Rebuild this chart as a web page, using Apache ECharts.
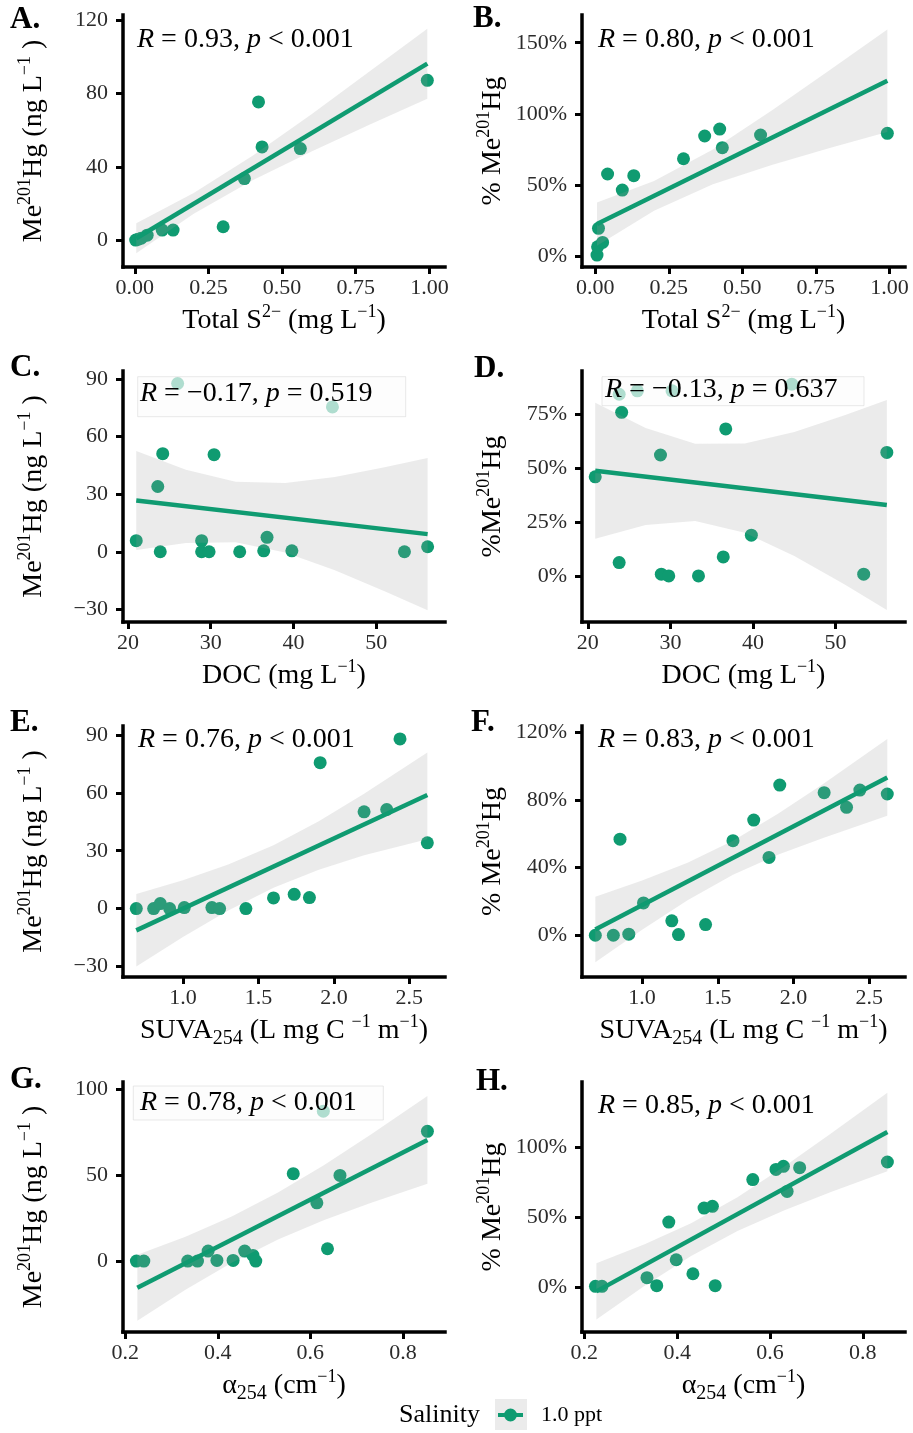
<!DOCTYPE html>
<html><head><meta charset="utf-8">
<script src="https://cdn.jsdelivr.net/npm/echarts@6/dist/echarts.min.js"></script>
<style>html,body{margin:0;padding:0;background:#fff}#c{width:913px;height:1433px}</style>
</head><body><div id="c"></div>
<script>
const GREEN = '#0f9b71';
const FONT = 'Liberation Serif';

// ---- Panel A: Total S2- vs MeHg
const xA = [0.003, 0.012, 0.022, 0.042, 0.093, 0.13, 0.30, 0.372, 0.42, 0.432, 0.562, 0.993];
const yA = [0, 0.5, 1.0, 2.7, 5.5, 5.5, 7.3, 33.6, 75.5, 50.9, 50.0, 87.3];
const fitXA = [0.005, 0.993];
const fitYA = [1.0, 96.4];
const bandXA = [0.005, 0.2, 0.4, 0.6, 0.8, 0.993];
const bandLoA = [-7.2, 14.4, 32.7, 48.4, 63.3, 77.3];
const bandHiA = [9.2, 25.8, 46.1, 68.8, 92.5, 115.5];
const xTicksA = [0, 0.25, 0.5, 0.75, 1];
const yTicksA = [0, 40, 80, 120];

// ---- Panel B: Total S2- vs %MeHg
const xB = [0.006, 0.008, 0.025, 0.011, 0.042, 0.092, 0.131, 0.30, 0.372, 0.423, 0.432, 0.562, 0.993];
const yB = [0.7, 6.5, 9.6, 19.5, 57.7, 46.4, 56.5, 68.4, 84.4, 89.3, 76.2, 85.1, 86.3];
const fitXB = [0.006, 0.993];
const fitYB = [22.5, 123.3];
const bandXB = [0.006, 0.2, 0.4, 0.6, 0.8, 0.993];
const bandLoB = [7.3, 31.9, 50.4, 64.0, 76.1, 87.3];
const bandHiB = [37.7, 52.7, 75.0, 102.4, 131.1, 159.3];
const xTicksB = [0, 0.25, 0.5, 0.75, 1];
const yTicksB = [0, 50, 100, 150];

// ---- Panel C: DOC vs MeHg
const xC = [21.0, 23.9, 23.6, 24.2, 26.0, 28.9, 28.9, 29.8, 30.4, 33.5, 36.4, 36.8, 39.8, 44.7, 53.4, 56.2];
const yC = [5.8, 0, 34.0, 51.1, 87.7, 5.8, 0, 0, 50.6, 0, 0.5, 7.5, 0.5, 75.5, 0, 2.6];
const fitXC = [21.0, 56.2];
const fitYC = [26.7, 9.2];
const bandXC = [21, 27, 33, 39, 45, 51, 56.2];
const bandLoC = [0.9, 4.6, 4.9, -0.4, -9.6, -20.6, -30.5];
const bandHiC = [52.5, 42.8, 36.5, 35.8, 39.0, 44.0, 48.9];
const xTicksC = [20, 30, 40, 50];
const yTicksC = [-30, 0, 30, 60, 90];

// ---- Panel D: DOC vs %MeHg
const xD = [20.9, 23.8, 26.0, 24.1, 23.8, 28.8, 28.9, 29.8, 30.2, 33.4, 36.4, 36.7, 39.8, 44.7, 53.4, 56.2];
const yD = [46.0, 84.3, 85.9, 75.9, 6.2, 56.1, 0.8, 0, 85.9, 0, 8.8, 68.2, 18.9, 89.0, 0.8, 57.3];
const fitXD = [20.9, 56.2];
const fitYD = [48.8, 32.9];
const bandXD = [20.9, 27, 33, 39, 45, 51, 56.2];
const bandLoD = [17.2, 23.6, 25.5, 20.0, 9.2, -3.8, -15.8];
const bandHiD = [80.4, 68.6, 61.3, 61.4, 66.8, 74.4, 81.6];
const xTicksD = [20, 30, 40, 50];
const yTicksD = [0, 25, 50, 75];

// ---- Panel E: SUVA254 vs MeHg
const xE = [0.691, 0.806, 0.850, 0.912, 1.009, 1.192, 1.243, 1.417, 1.600, 1.737, 1.838, 1.909, 2.200, 2.350, 2.438, 2.619];
const yE = [0, 0, 2.6, 0, 0.5, 0.5, 0, 0, 5.5, 7.4, 5.7, 75.7, 50.2, 51.4, 88.0, 34.1];
const fitXE = [0.691, 2.619];
const fitYE = [-11.3, 58.9];
const bandXE = [0.691, 1.0, 1.3, 1.6, 1.9, 2.2, 2.619];
const bandLoE = [-30.1, -14.7, -1.0, 10.8, 20.1, 27.7, 36.0];
const bandHiE = [7.5, 14.7, 22.8, 32.8, 45.3, 59.5, 81.0];
const xTicksE = [1.0, 1.5, 2.0, 2.5];
const yTicksE = [-30, 0, 30, 60, 90];

// ---- Panel F: SUVA254 vs %MeHg
const xF = [0.691, 0.810, 0.854, 0.912, 1.009, 1.196, 1.240, 1.419, 1.600, 1.737, 1.838, 1.909, 2.202, 2.350, 2.438, 2.619];
const yF = [0, 0, 56.8, 0.6, 19.1, 8.5, 0.4, 6.3, 55.9, 68.1, 46.0, 88.8, 84.3, 75.6, 85.8, 83.5];
const fitXF = [0.691, 2.619];
const fitYF = [3.4, 93.3];
const bandXF = [0.691, 1.0, 1.3, 1.6, 1.9, 2.2, 2.619];
const bandLoF = [-16.0, 3.2, 20.7, 35.8, 47.7, 57.7, 70.6];
const bandHiF = [22.8, 32.4, 42.9, 55.8, 71.9, 89.7, 116.0];
const xTicksF = [1.0, 1.5, 2.0, 2.5];
const yTicksF = [0, 40, 80, 120];

// ---- Panel G: a254 vs MeHg
const xG = [0.224, 0.240, 0.335, 0.356, 0.379, 0.398, 0.433, 0.458, 0.476, 0.482, 0.563, 0.614, 0.628, 0.637, 0.664, 0.853];
const yG = [0, 0, 0, 0, 5.8, 0.4, 0.4, 5.8, 3.3, 0, 51.0, 34.0, 87.5, 7.2, 50.0, 75.7];
const fitXG = [0.226, 0.853];
const fitYG = [-15.6, 70.7];
const bandXG = [0.226, 0.33, 0.43, 0.53, 0.63, 0.73, 0.853];
const bandLoG = [-34.9, -16.8, -1.0, 12.6, 23.9, 33.9, 45.1];
const bandHiG = [3.7, 14.2, 26.0, 40.0, 56.1, 73.7, 96.3];
const xTicksG = [0.2, 0.4, 0.6, 0.8];
const yTicksG = [0, 50, 100];

// ---- Panel H: a254 vs %MeHg
const xH = [0.224, 0.238, 0.335, 0.356, 0.382, 0.398, 0.434, 0.458, 0.476, 0.482, 0.563, 0.613, 0.629, 0.637, 0.664, 0.853];
const yH = [0.5, 0.5, 6.7, 1.0, 46.4, 19.5, 9.5, 56.4, 57.6, 1.0, 76.7, 84.0, 86.2, 68.3, 85.2, 89.3];
const fitXH = [0.226, 0.853];
const fitYH = [-3.1, 110.7];
const bandXH = [0.226, 0.33, 0.43, 0.53, 0.63, 0.73, 0.853];
const bandLoH = [-23.1, 1.0, 22.2, 40.0, 54.6, 67.6, 82.7];
const bandHiH = [16.9, 30.6, 45.6, 64.2, 85.8, 109.2, 138.7];
const xTicksH = [0.2, 0.4, 0.6, 0.8];
const yTicksH = [0, 50, 100];

const statLabels = [
  '{i|R}{t| = 0.93, }{i|p}{t| < 0.001}',
  '{i|R}{t| = 0.80, }{i|p}{t| < 0.001}',
  '{i|R}{t| = \u22120.17, }{i|p}{t| = 0.519}',
  '{i|R}{t| = \u22120.13, }{i|p}{t| = 0.637}',
  '{i|R}{t| = 0.76, }{i|p}{t| < 0.001}',
  '{i|R}{t| = 0.83, }{i|p}{t| < 0.001}',
  '{i|R}{t| = 0.78, }{i|p}{t| < 0.001}',
  '{i|R}{t| = 0.85, }{i|p}{t| < 0.001}'
];
const panelLetters = ['A.', 'B.', 'C.', 'D.', 'E.', 'F.', 'G.', 'H.'];

const NAME_S = '{n|Total S}{sup|2\u2212}{n| (mg L}{sup|\u22121}{n|)}';
const NAME_DOC = '{n|DOC (mg L}{sup|\u22121}{n|)}';
const NAME_SUVA = '{n|SUVA}{sub|254}{n| (L mg C }{sup|\u22121}{n| m}{sup|\u22121}{n|)}';
const NAME_A254 = '{n|\u03b1}{sub|254}{n| (cm}{sup|\u22121}{n|)}';
const NAME_MEHG = '{n|Me}{sup|201}{n|Hg (ng L}{sup|\u22121}{n| )}';
const NAME_PCT = '{n|% Me}{sup|201}{n|Hg}';
const NAME_PCT2 = '{n|%Me}{sup|201}{n|Hg}';

const panels = [
  {x: xA, y: yA, fx: fitXA, fy: fitYA, bx: bandXA, lo: bandLoA, hi: bandHiA, xt: xTicksA, yt: yTicksA, xr: [-0.04, 1.053], yr: [-14.7, 123], xd: 2, pct: false, xn: NAME_S, yn: NAME_MEHG},
  {x: xB, y: yB, fx: fitXB, fy: fitYB, bx: bandXB, lo: bandLoB, hi: bandHiB, xt: xTicksB, yt: yTicksB, xr: [-0.045, 1.053], yr: [-7.7, 169.5], xd: 2, pct: true, xn: NAME_S, yn: NAME_PCT},
  {x: xC, y: yC, fx: fitXC, fy: fitYC, bx: bandXC, lo: bandLoC, hi: bandHiC, xt: xTicksC, yt: yTicksC, xr: [19.4, 58.3], yr: [-36.6, 94.2], xd: 0, pct: false, xn: NAME_DOC, yn: NAME_MEHG},
  {x: xD, y: yD, fx: fitXD, fy: fitYD, bx: bandXD, lo: bandLoD, hi: bandHiD, xt: xTicksD, yt: yTicksD, xr: [19.3, 58.4], yr: [-21.4, 95.1], xd: 0, pct: true, xn: NAME_DOC, yn: NAME_PCT2},
  {x: xE, y: yE, fx: fitXE, fy: fitYE, bx: bandXE, lo: bandLoE, hi: bandHiE, xt: xTicksE, yt: yTicksE, xr: [0.603, 2.736], yr: [-35.5, 94.7], xd: 1, pct: false, xn: NAME_SUVA, yn: NAME_MEHG},
  {x: xF, y: yF, fx: fitXF, fy: fitYF, bx: bandXF, lo: bandLoF, hi: bandHiF, xt: xTicksF, yt: yTicksF, xr: [0.603, 2.736], yr: [-24.7, 123.7], xd: 1, pct: true, xn: NAME_SUVA, yn: NAME_PCT},
  {x: xG, y: yG, fx: fitXG, fy: fitYG, bx: bandXG, lo: bandLoG, hi: bandHiG, xt: xTicksG, yt: yTicksG, xr: [0.195, 0.891], yr: [-41.4, 104.5], xd: 1, pct: false, xn: NAME_A254, yn: NAME_MEHG},
  {x: xH, y: yH, fx: fitXH, fy: fitYH, bx: bandXH, lo: bandLoH, hi: bandHiH, xt: xTicksH, yt: yTicksH, xr: [0.195, 0.891], yr: [-32.1, 146.4], xd: 1, pct: true, xn: NAME_A254, yn: NAME_PCT}
];

// layout
const lefts = [123, 582];
const tops = [15, 371, 726, 1082];
const heights = [252, 251, 251, 250];
const gridW = [322, 323];

function fmt(v, d, pct) {
  let s = Math.abs(v).toFixed(d);
  if (v < 0) s = '\u2212' + s;
  return pct ? s + '%' : s;
}

const richName = {
  n: {fontFamily: FONT, fontSize: 28, lineHeight: 36, color: '#000'},
  sup: {fontFamily: FONT, fontSize: 18, lineHeight: 18, verticalAlign: 'top', color: '#000'},
  sub: {fontFamily: FONT, fontSize: 20, lineHeight: 26, verticalAlign: 'bottom', color: '#000'}
};
const richStat = {
  t: {fontFamily: FONT, fontSize: 28, color: '#000'},
  i: {fontFamily: FONT, fontSize: 28, fontStyle: 'italic', color: '#000'}
};

const grids = [], xAxes = [], yAxes = [], series = [];
panels.forEach(function (p, i) {
  const col = i % 2, row = Math.floor(i / 2);
  grids.push({left: lefts[col], top: tops[row], width: gridW[col], height: heights[row], containLabel: false});
  const axLine = {show: true, onZero: false, lineStyle: {color: '#000', width: 3.5, cap: 'square'}};
  xAxes.push({
    type: 'value', gridIndex: i, min: p.xr[0], max: p.xr[1],
    axisLine: axLine,
    axisTick: {show: true, length: 7, customValues: p.xt, lineStyle: {color: '#000', width: 3}},
    axisLabel: {customValues: p.xt, margin: 10, fontFamily: FONT, fontSize: 22, color: '#2b2b2b',
      formatter: function (v) { return fmt(v, p.xd, false); }},
    splitLine: {show: false},
    name: p.xn, nameLocation: 'middle', nameGap: 36,
    nameTextStyle: {fontFamily: FONT, fontSize: 28, color: '#000', rich: richName}
  });
  yAxes.push({
    type: 'value', gridIndex: i, min: p.yr[0], max: p.yr[1],
    axisLine: axLine,
    axisTick: {show: true, length: 7, customValues: p.yt, lineStyle: {color: '#000', width: 3}},
    axisLabel: {customValues: p.yt, margin: 15, fontFamily: FONT, fontSize: 22, color: '#2b2b2b',
      formatter: function (v) { return fmt(v, 0, p.pct); }},
    splitLine: {show: false},
    name: p.yn, nameLocation: 'middle', nameGap: 71,
    nameTextStyle: {fontFamily: FONT, fontSize: 28, color: '#000', rich: richName}
  });
  series.push({
    type: 'scatter', name: '1.0 ppt', xAxisIndex: i, yAxisIndex: i, z: 2,
    data: p.x.map(function (v, k) { return [v, p.y[k]]; }),
    symbol: 'circle', symbolSize: 13, itemStyle: {color: GREEN, opacity: 1}
  });
  series.push({
    type: 'custom', name: 'band' + i, xAxisIndex: i, yAxisIndex: i, z: 3, silent: true,
    data: p.bx.map(function (v, k) { return [v, p.lo[k], p.hi[k]]; }),
    encode: {x: 0, y: [1, 2]},
    renderItem: function (params, api) {
      if (params.dataIndex !== 0) return null;
      const pts = [];
      for (let k = 0; k < p.bx.length; k++) pts.push(api.coord([p.bx[k], p.hi[k]]));
      for (let k = p.bx.length - 1; k >= 0; k--) pts.push(api.coord([p.bx[k], p.lo[k]]));
      return {type: 'polygon', shape: {points: pts}, style: {fill: 'rgba(153,153,153,0.2)'}};
    }
  });
  series.push({
    type: 'line', name: 'fit' + i, xAxisIndex: i, yAxisIndex: i, z: 4, silent: true,
    data: p.fx.map(function (v, k) { return [v, p.fy[k]]; }),
    symbol: 'none', showSymbol: false, lineStyle: {color: GREEN, width: 4.5}, itemStyle: {color: GREEN}
  });
});

// annotation placement (pixel layout)
const statPos = [[137, 26], [598, 26], [140, 380], [605, 376], [138, 726], [598, 726], [140, 1089], [598, 1092]];
const letterPos = [[10, 20], [473, 19], [10, 368], [474, 369], [10, 723], [471, 723], [10, 1080], [476, 1082]];
const boxes = [[137.7, 376.7, 268, 40], [602, 376.7, 262, 29], [133.3, 1086, 250, 34]];

const graphic = [];
boxes.forEach(function (b) {
  graphic.push({type: 'rect', z: 10, shape: {x: b[0], y: b[1], width: b[2], height: b[3]},
    style: {fill: 'rgba(252,252,252,0.68)', stroke: 'rgba(215,215,215,0.55)', lineWidth: 1}});
});
statLabels.forEach(function (s, i) {
  graphic.push({type: 'text', z: 11, x: statPos[i][0], y: statPos[i][1],
    style: {text: s, rich: richStat, fontFamily: FONT, fontSize: 28, fill: '#000', verticalAlign: 'top', align: 'left'}});
});
panelLetters.forEach(function (s, i) {
  graphic.push({type: 'text', z: 11, x: letterPos[i][0], y: letterPos[i][1],
    style: {text: s, fontFamily: FONT, fontSize: 31, fontWeight: 'bold', fill: '#000', verticalAlign: 'middle', align: 'left'}});
});
// legend title and key background
graphic.push({type: 'text', z: 11, x: 399, y: 1415,
  style: {text: 'Salinity', fontFamily: FONT, fontSize: 26, fill: '#000', verticalAlign: 'middle', align: 'left'}});
graphic.push({type: 'rect', z: 1, shape: {x: 495, y: 1399, width: 32, height: 31}, style: {fill: '#ebebeb'}});

const chart = echarts.init(document.getElementById('c'), null, {renderer: 'canvas'});
chart.setOption({
  animation: false,
  backgroundColor: '#fff',
  grid: grids, xAxis: xAxes, yAxis: yAxes, series: series,
  legend: {
    data: ['1.0 ppt'], left: 498, top: 1404, padding: 0, selectedMode: false,
    itemWidth: 25, itemHeight: 13,
    icon: 'path://M0,4.5L25,4.5L25,8.5L0,8.5Z M6,6.5A6.5,6.5,0,1,1,19,6.5A6.5,6.5,0,1,1,6,6.5Z',
    textStyle: {fontFamily: FONT, fontSize: 22, color: '#000', padding: [0, 0, 0, 13]}
  },
  graphic: graphic
});
</script></body></html>
